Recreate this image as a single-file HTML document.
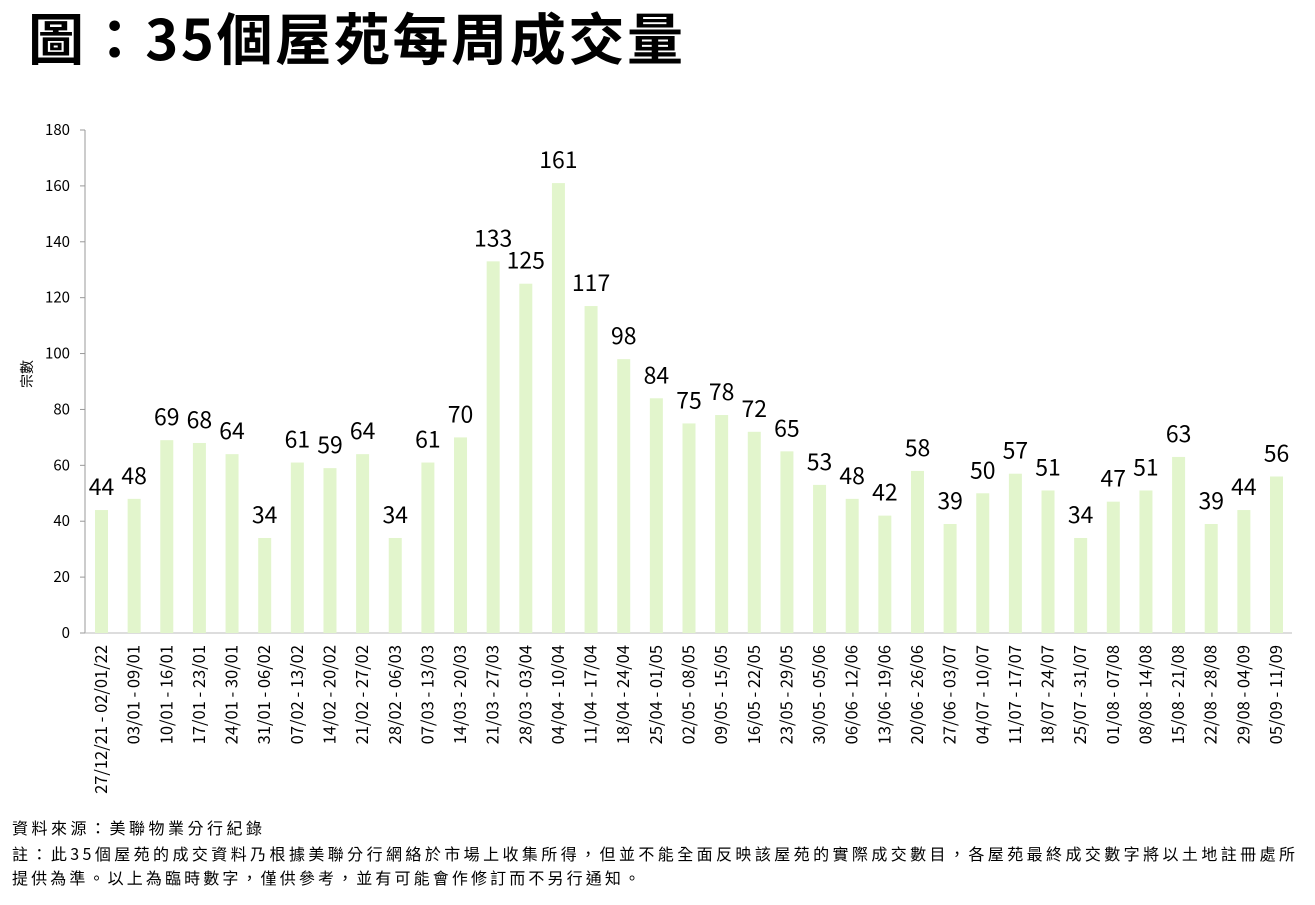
<!DOCTYPE html>
<html><head><meta charset="utf-8"><style>
body{margin:0;background:#fff;width:1315px;height:900px;overflow:hidden;font-family:"Liberation Sans","Noto Sans CJK TC",sans-serif}
</style></head><body>
<svg id="s" width="1315" height="900" xmlns="http://www.w3.org/2000/svg" font-family="'Noto Sans CJK TC',sans-serif">
<text x="28" y="60" font-size="56" font-weight="bold" fill="#000" textLength="655" lengthAdjust="spacing">圖：35個屋苑每周成交量</text>
<text transform="translate(32,374) rotate(-90)" font-size="14" text-anchor="middle" fill="#000">宗數</text>
<text x="12" y="834" font-size="16" fill="#000" textLength="250" lengthAdjust="spacing">資料來源：美聯物業分行紀錄</text>
<text x="12" y="860" font-size="16" fill="#000" textLength="1283" lengthAdjust="spacing">註：此35個屋苑的成交資料乃根據美聯分行網絡於市場上收集所得，但並不能全面反映該屋苑的實際成交數目，各屋苑最終成交數字將以土地註冊處所</text>
<text x="12" y="884" font-size="16" fill="#000" textLength="628" lengthAdjust="spacing">提供為準。以上為臨時數字，僅供參考，並有可能會作修訂而不另行通知。</text>
</svg>
<script>
var s=document.getElementById('s'),ns='http://www.w3.org/2000/svg';
function el(t,a,txt){var e=document.createElementNS(ns,t);for(var k in a)e.setAttribute(k,a[k]);if(txt!=null)e.textContent=txt;s.appendChild(e);return e;}
var v=[44,48,69,68,64,34,61,59,64,34,61,70,133,125,161,117,98,84,75,78,72,65,53,48,42,58,39,50,57,51,34,47,51,63,39,44,56];
var L=["27/12/21 - 02/01/22","03/01 - 09/01","10/01 - 16/01","17/01 - 23/01","24/01 - 30/01","31/01 - 06/02","07/02 - 13/02","14/02 - 20/02","21/02 - 27/02","28/02 - 06/03","07/03 - 13/03","14/03 - 20/03","21/03 - 27/03","28/03 - 03/04","04/04 - 10/04","11/04 - 17/04","18/04 - 24/04","25/04 - 01/05","02/05 - 08/05","09/05 - 15/05","16/05 - 22/05","23/05 - 29/05","30/05 - 05/06","06/06 - 12/06","13/06 - 19/06","20/06 - 26/06","27/06 - 03/07","04/07 - 10/07","11/07 - 17/07","18/07 - 24/07","25/07 - 31/07","01/08 - 07/08","08/08 - 14/08","15/08 - 21/08","22/08 - 28/08","29/08 - 04/09","05/09 - 11/09"];
var y0=633,yTop=130,k=(y0-yTop)/180,x0=85,sp=(1276.5-101.5)/36,c0=101.5;
el('line',{x1:x0,y1:yTop,x2:x0,y2:y0,stroke:'#999'});
el('line',{x1:x0,y1:y0,x2:1292,y2:y0,stroke:'#bbb'});
for(var t=0;t<=180;t+=20){var y=y0-t*k;el('line',{x1:x0-5,y1:y,x2:x0,y2:y,stroke:'#999'});el('text',{x:70,y:y+5,'font-size':15,'text-anchor':'end'},t);}
for(var i=0;i<v.length;i++){var c=c0+i*sp,h=v[i]*k;
el('rect',{x:c-6.5,y:y0-h,width:13,height:h,fill:'#e2f5cc'});
el('text',{x:c,y:y0-h-15,'font-size':23,'text-anchor':'middle'},v[i]);
el('text',{transform:'translate('+(c+5.5)+',645) rotate(-90)','font-size':16.5,'text-anchor':'end'},L[i]);}
</script>
</body></html>
